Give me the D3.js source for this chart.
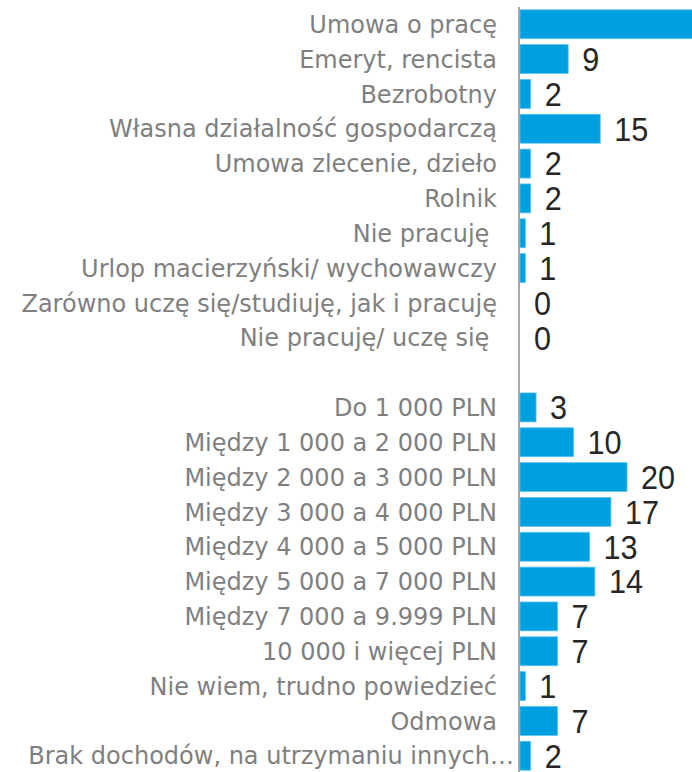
<!DOCTYPE html>
<html>
<head>
<meta charset="utf-8">
<script src="https://cdn.jsdelivr.net/npm/d3@7"></script>
<style>
  body { margin: 0; background: #fff; }
  svg { display: block; }
</style>
</head>
<body>
<svg id="chart" width="692" height="772"></svg>
<script>
// kategorie (pusty wiersz rozdziela dwie grupy)
var categories = [
  "Umowa o pracę",
  "Emeryt, rencista",
  "Bezrobotny",
  "Własna działalność gospodarczą",
  "Umowa zlecenie, dzieło",
  "Rolnik",
  "Nie pracuję ",
  "Urlop macierzyński/ wychowawczy",
  "Zarówno uczę się/studiuję, jak i pracuję",
  "Nie pracuję/ uczę się ",
  "",
  "Do 1 000 PLN",
  "Między 1 000 a 2 000 PLN",
  "Między 2 000 a 3 000 PLN",
  "Między 3 000 a 4 000 PLN",
  "Między 4 000 a 5 000 PLN",
  "Między 5 000 a 7 000 PLN",
  "Między 7 000 a 9.999 PLN",
  "10 000 i więcej PLN",
  "Nie wiem, trudno powiedzieć",
  "Odmowa",
  "Brak dochodów, na utrzymaniu innych…"
];
var values = [38, 9, 2, 15, 2, 2, 1, 1, 0, 0, null, 3, 10, 20, 17, 13, 14, 7, 7, 1, 7, 2];

var W = 692;
var svg = d3.select("#chart");
var x0 = 520;

var x = d3.scaleLinear().domain([0, 20]).range([x0, x0 + 107]);
var y = d3.scaleBand()
  .domain(d3.range(categories.length))
  .range([7, 773])
  .paddingInner(0.17)
  .paddingOuter(0.08);

var rows = categories.map(function (c, i) { return { name: c, value: values[i], i: i }; });
var withVal = rows.filter(function (d) { return d.value !== null; });

// słupki
svg.selectAll(".bar")
  .data(withVal)
  .enter()
  .append("rect")
  .attr("class", "bar")
  .attr("x", x0)
  .attr("y", function (d) { return y(d.i); })
  .attr("width", function (d) { return x(d.value) - x0; })
  .attr("height", y.bandwidth())
  .attr("fill", "#009fdf")
  .attr("stroke", "#5cc3ee")
  .attr("stroke-width", 0.8);

// oś
svg.append("line")
  .attr("x1", 519).attr("x2", 519)
  .attr("y1", 7).attr("y2", 772)
  .attr("stroke", "#8c8c8c")
  .attr("stroke-width", 1.5);

// etykiety kategorii (ucięta etykieta sięga prawie do osi)
svg.selectAll(".cat")
  .data(rows)
  .enter()
  .append("text")
  .attr("class", "cat")
  .attr("x", function (d) { return d.name.slice(-1) == "…" ? 514 : 497; })
  .attr("y", function (d) { return y(d.i) + y.bandwidth() / 2; })
  .attr("dy", "0.36em")
  .attr("text-anchor", "end")
  .style("white-space", "pre")
  .attr("font-family", "Verdana, 'DejaVu Sans', sans-serif")
  .attr("font-size", 24)
  .attr("fill", "#7f7f7f")
  .text(function (d) { return d.name; });

// wartości (pomijamy te, które wypadają poza obrazek)
svg.selectAll(".val")
  .data(withVal.filter(function (d) { return x(d.value) + 15 < W - 20; }))
  .enter()
  .append("text")
  .attr("class", "val")
  .attr("transform", function (d) {
    return "translate(" + (x(d.value) + 14) + "," + (y(d.i) + y.bandwidth() / 2) + ") scale(0.9,1)";
  })
  .attr("dy", "0.35em")
  .attr("font-family", "Arial, 'Liberation Sans', sans-serif")
  .attr("font-size", 34)
  .attr("fill", "#262626")
  .text(function (d) { return d.value; });
</script>
</body>
</html>
